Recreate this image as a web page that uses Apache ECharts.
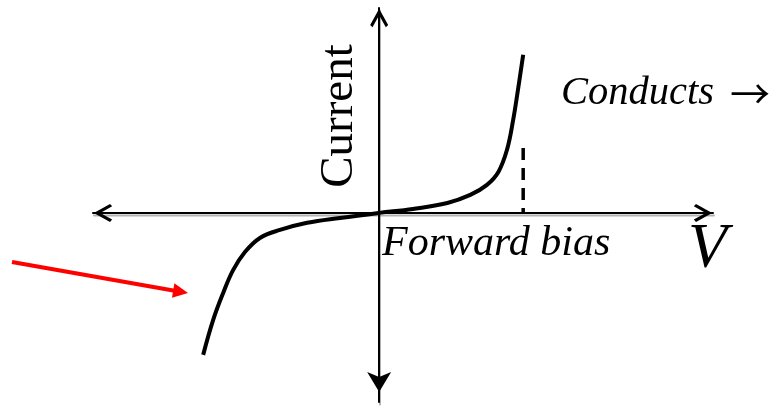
<!DOCTYPE html>
<html>
<head>
<meta charset="utf-8">
<style>
  html, body { margin: 0; padding: 0; background: #fff; }
  #chart { width: 773px; height: 408px; }
</style>
<script src="https://cdn.jsdelivr.net/npm/echarts@6/dist/echarts.min.js"></script>
</head>
<body>
<div id="chart"></div>
<script>
// diode I-V curve, arbitrary units (voltage, current)
const voltage = [-3.69, -3.48, -3.27, -3.06, -2.81, -2.50, -2.08, -1.51, -0.82, 0,
                 0.71, 1.43, 1.91, 2.26, 2.50, 2.68, 2.81, 2.91, 3.02]
const current = [-9.01, -6.79, -5.08, -3.62, -2.47, -1.59, -1.08, -0.63, -0.32, 0,
                 0.25, 0.63, 1.14, 1.78, 2.60, 4.00, 5.90, 7.80, 10.03]
// dashed marker at the turn-on voltage
const thresholdV = 3.02
const thresholdTop = 4.12

const serif = "'Liberation Serif', 'Times New Roman', serif"
const chevron = 'path://M5,0 L10,9 L8.7,10.2 L5,3.6 L1.3,10.2 L0,9 Z'

const chart = echarts.init(document.getElementById('chart'))

const axisLine = {
  show: true,
  onZero: true,
  lineStyle: {
    color: '#000',
    width: 2,
    shadowColor: 'rgba(0,0,0,0.3)',
    shadowOffsetX: 1,
    shadowOffsetY: 2.5,
    shadowBlur: 0
  },
  symbolSize: [18, 20],
  symbolOffset: [10, -10]
}

const option = {
  animation: false,
  backgroundColor: '#fff',
  grid: { left: 93, right: 60, top: 8, bottom: 6 },
  xAxis: {
    type: 'value',
    min: -6,
    max: 7,
    axisLine: { ...axisLine, symbol: [chevron, chevron] },
    axisTick: { show: false },
    axisLabel: { show: false },
    splitLine: { show: false }
  },
  yAxis: {
    type: 'value',
    min: -12,
    max: 13,
    axisLine: { ...axisLine, symbol: ['arrow', chevron] },
    axisTick: { show: false },
    axisLabel: { show: false },
    splitLine: { show: false }
  },
  series: [
    {
      type: 'line',
      data: voltage.map((v, i) => [v, current[i]]),
      smooth: 0.4,
      showSymbol: false,
      lineStyle: { color: '#000', width: 4 },
      z: 5
    },
    {
      type: 'line',
      data: [[thresholdV, thresholdTop], [thresholdV, 0]],
      showSymbol: false,
      lineStyle: { color: '#000', width: 3.5, type: [12, 8] },
      z: 4
    }
  ],
  graphic: [
    {
      type: 'text',
      x: 340, y: 116,
      rotation: Math.PI / 2,
      style: {
        text: 'Current',
        font: '47px ' + serif,
        fill: '#000',
        textAlign: 'center',
        textVerticalAlign: 'middle'
      }
    },
    {
      type: 'text',
      x: 561, y: 114,
      style: {
        text: 'Conducts',
        font: 'italic 40.5px ' + serif,
        fill: '#000',
        textAlign: 'left',
        textVerticalAlign: 'bottom'
      }
    },
    {
      type: 'text',
      x: 730, y: 94,
      style: {
        text: '→',
        font: "40px 'Noto Sans CJK SC'",
        fill: '#000',
        textAlign: 'left',
        textVerticalAlign: 'middle'
      }
    },
    {
      type: 'text',
      x: 382, y: 265,
      style: {
        text: 'Forward bias',
        font: 'italic 42px ' + serif,
        fill: '#000',
        textAlign: 'left',
        textVerticalAlign: 'bottom'
      }
    },
    {
      type: 'text',
      x: 688, y: 282,
      style: {
        text: 'V',
        font: 'italic 64px ' + serif,
        fill: '#000',
        textAlign: 'left',
        textVerticalAlign: 'bottom'
      }
    },
    // red pointer arrow
    {
      type: 'line',
      shape: { x1: 12, y1: 262, x2: 176, y2: 291 },
      style: { stroke: '#ff0000', lineWidth: 4 }
    },
    {
      type: 'polygon',
      shape: { points: [[188, 293], [172.0, 297.8], [174.4, 283.2]] },
      style: { fill: '#ff0000' }
    }
  ]
}

chart.setOption(option)
</script>
</body>
</html>
